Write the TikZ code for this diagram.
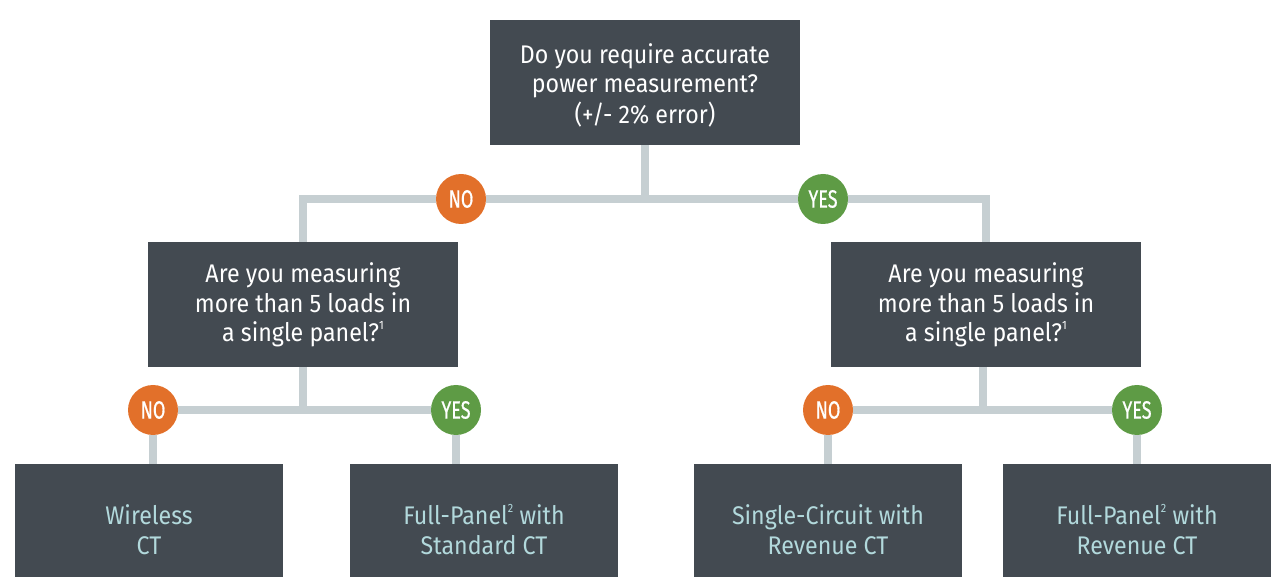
\documentclass[tikz,border=0pt]{standalone}
\usepackage{fontspec}
\setmainfont{Fira Sans}[FakeStretch=0.91]
\newfontfamily\badgefont{Fira Sans}[FakeStretch=0.72, FakeBold=0.6]
\usetikzlibrary{backgrounds}
\definecolor{boxfill}{HTML}{434A51}
\definecolor{linegray}{HTML}{C6CFD2}
\definecolor{noorange}{HTML}{E2702A}
\definecolor{yesgreen}{HTML}{5E9B45}
\definecolor{restext}{HTML}{B2D9DC}
\tikzset{
  question/.style={fill=boxfill, text=white, minimum width=310pt, minimum height=125pt,
    align=center, inner sep=0pt, font=\fontsize{25.5}{29.5}\selectfont},
  result/.style={fill=boxfill, text=restext, minimum width=268pt, minimum height=131pt,
    align=center, inner sep=0pt, font=\fontsize{25.5}{30}\selectfont},
  badge/.style={circle, minimum size=50pt, inner sep=0pt, text=white,
    font=\badgefont\fontsize{25}{25}\selectfont},
  nobadge/.style={badge, fill=noorange},
  yesbadge/.style={badge, fill=yesgreen},
  conn/.style={draw=linegray, line width=8pt, line join=miter}
}
\newcommand{\fnmark}[1]{\raisebox{0.5em}{\fontsize{12}{12}\selectfont #1}}
\newcommand{\lowered}[2]{\raisebox{-#1}[\height][\depth]{\begin{tabular}{@{}c@{}}#2\end{tabular}}}
\begin{document}
\begin{tikzpicture}[x=1pt, y=-1pt]
\useasboundingbox (0,0) rectangle (1278,577);
\node[question] (top) at (645,82.5) {\lowered{5pt}{Do you require accurate\\power measurement?\\(+/- 2\% error)}};
\node[question] (midL) at (303,304.5) {\lowered{2pt}{Are you measuring\\more than 5 loads in\\a single panel?\fnmark{1}}};
\node[question] (midR) at (986,304.5) {\lowered{2pt}{Are you measuring\\more than 5 loads in\\a single panel?\fnmark{1}}};
\node[nobadge] (no1) at (461,199) {NO};
\node[yesbadge] (yes1) at (823,199) {YES};
\node[nobadge] (no2) at (153,410) {NO};
\node[yesbadge] (yes2) at (456,410) {YES};
\node[nobadge] (no3) at (828,410) {NO};
\node[yesbadge] (yes3) at (1137,410) {YES};
\node[result] (r1) at (149,529.5) {Wireless\\CT};
\node[result] (r2) at (484,529.5) {Full-Panel\fnmark{2} with\\Standard CT};
\node[result] (r3) at (828,529.5) {Single-Circuit with\\Revenue CT};
\node[result] (r4) at (1137,529.5) {Full-Panel\fnmark{2} with\\Revenue CT};
\begin{pgfonlayer}{background}
\draw[conn] (top.south) |- (no1);
\draw[conn] (no1) -| (midL.north);
\draw[conn] (top.south) |- (yes1);
\draw[conn] (yes1) -| (midR.north);
\draw[conn] (midL.south) |- (no2);
\draw[conn] (midL.south) |- (yes2);
\draw[conn] (no2) -- (no2 |- r1.north);
\draw[conn] (yes2) -- (yes2 |- r2.north);
\draw[conn] ([xshift=-3pt]midR.south) |- (no3);
\draw[conn] ([xshift=-3pt]midR.south) |- (yes3);
\draw[conn] (no3) -- (no3 |- r3.north);
\draw[conn] (yes3) -- (yes3 |- r4.north);
\end{pgfonlayer}
\end{tikzpicture}
\end{document}
